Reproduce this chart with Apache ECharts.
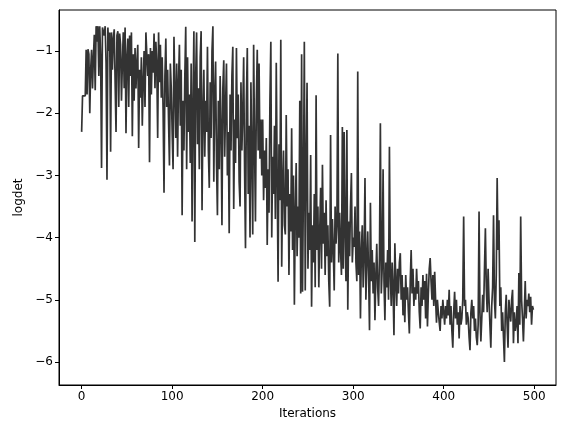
<!DOCTYPE html>
<html>
<head>
<meta charset="utf-8">
<script src="https://cdn.jsdelivr.net/npm/echarts@6/dist/echarts.min.js"></script>
<style>
  html, body { margin: 0; padding: 0; background: #fff; }
  #chart { width: 565px; height: 432px; }
</style>
</head>
<body>
<div id="chart"></div>
<script>
// logdet values, one per iteration (0..499)
var logdet = [
  -2.30,-1.72,-1.70,-1.71,-1.72,-0.98,-1.70,-0.97,-1.05,-2.00,
  -1.30,-0.98,-1.60,-1.10,-0.74,-1.63,-0.60,-0.85,-0.60,-1.40,
  -0.60,-1.10,-2.88,-0.62,-0.60,-0.75,-0.60,-1.20,-3.07,-0.62,
  -1.00,-0.70,-2.62,-0.70,-1.30,-0.80,-0.65,-1.50,-2.30,-0.75,
  -0.68,-1.90,-0.72,-0.90,-1.80,-1.20,-0.70,-1.60,-0.62,-2.32,
  -1.10,-0.80,-1.90,-0.75,-1.40,-0.70,-2.37,-1.05,-1.80,-0.95,
  -1.60,-1.20,-0.90,-2.56,-1.30,-1.75,-1.10,-2.20,-1.50,-1.00,
  -1.90,-0.70,-0.68,-1.40,-1.05,-2.79,-0.95,-1.70,-1.00,-1.35,
  -0.72,-1.60,-0.85,-1.20,-2.40,-0.70,-1.50,-0.90,-1.75,-1.10,
  -1.95,-3.28,-1.40,-0.80,-1.90,-1.30,-2.10,-2.84,-1.20,-1.60,
  -2.30,-2.90,-0.77,-1.60,-2.40,-1.20,-2.70,-1.50,-0.90,-2.20,
  -1.30,-3.64,-1.80,-2.60,-1.40,-0.61,-2.90,-1.10,-2.30,-1.70,
  -2.80,-1.20,-3.74,-1.90,-0.68,-4.07,-1.40,-0.70,-2.50,-1.60,
  -2.90,-1.10,-0.68,-3.56,-2.00,-1.30,-2.70,-1.80,-2.30,-0.93,
  -2.60,-3.20,-1.50,-2.40,-1.00,-0.60,-3.10,-1.70,-1.17,-2.80,
  -3.64,-1.80,-2.90,-1.40,-2.20,-3.80,-1.60,-1.15,-2.70,-1.90,
  -1.20,-3.00,-2.30,-3.93,-1.70,-2.60,-1.40,-0.93,-3.54,-2.10,
  -2.80,-0.95,-2.40,-1.70,-3.10,-3.50,-1.50,-2.60,-2.00,-1.10,
  -2.90,-4.17,-1.80,-0.95,-3.30,-2.20,-4.00,-1.50,-2.70,-3.95,
  -0.90,-2.50,-3.74,-1.80,-0.98,-2.60,-1.20,-2.73,-2.10,-3.00,
  -2.10,-3.40,-2.60,-3.20,-2.40,-4.12,-2.90,-3.60,-1.80,-0.85,
  -4.00,-2.70,-3.30,-2.20,-3.70,-1.19,-3.00,-4.71,-2.50,-3.40,
  -0.82,-4.47,-3.20,-2.60,-3.80,-3.95,-2.03,-3.50,-2.90,-4.60,
  -3.30,-3.90,-2.24,-4.20,-3.00,-5.08,-3.60,-2.80,-4.30,-3.50,
  -4.00,-1.80,-4.90,-1.05,-4.87,-3.20,-0.85,-4.85,-2.90,-1.51,
  -4.50,-3.60,-4.20,-2.67,-5.11,-3.80,-4.40,-3.30,-4.80,-1.71,
  -4.20,-3.50,-4.80,-3.90,-3.20,-4.50,-2.83,-4.10,-3.60,-4.60,
  -3.40,-4.30,-3.80,-4.70,-5.11,-2.35,-4.40,-3.70,-4.20,-4.85,
  -3.50,-4.10,-3.80,-1.04,-4.40,-3.60,-4.20,-4.60,-2.22,-4.50,
  -2.30,-3.90,-4.70,-2.27,-5.16,-3.74,-4.30,-3.50,-2.96,-4.40,
  -4.00,-4.15,-3.50,-4.40,-4.70,-1.33,-4.60,-3.90,-5.30,-4.20,
  -3.80,-4.80,-4.30,-3.04,-5.00,-4.40,-3.90,-4.60,-5.49,-3.44,
  -4.70,-4.20,-4.90,-4.40,-5.33,-4.60,-4.10,-4.80,-5.10,-4.30,
  -2.16,-4.90,-4.50,-2.90,-4.70,-5.33,-4.40,-4.80,-4.20,-5.00,
  -2.54,-4.60,-5.10,-4.40,-4.80,-5.57,-4.09,-4.70,-5.10,-4.50,
  -4.90,-4.40,-4.25,-5.00,-4.60,-5.25,-4.80,-5.36,-4.60,-5.00,
  -4.80,-5.20,-5.54,-4.70,-4.20,-4.90,-4.50,-5.10,-4.80,-5.00,
  -4.50,-4.90,-4.70,-5.20,-5.46,-4.80,-5.10,-4.60,-5.00,-4.70,
  -5.30,-4.58,-5.43,-4.90,-4.50,-4.33,-4.70,-5.00,-4.60,-5.10,
  -4.55,-5.00,-5.37,-5.00,-5.20,-5.36,-5.50,-5.10,-5.30,-5.00,
  -5.20,-5.40,-5.10,-5.30,-5.00,-5.25,-4.84,-5.40,-5.10,-5.50,
  -5.77,-5.20,-4.87,-5.30,-5.00,-5.40,-5.20,-5.62,-5.10,-5.40,
  -5.30,-5.00,-3.66,-5.10,-5.00,-5.40,-5.20,-5.30,-5.60,-5.81,
  -5.20,-5.00,-5.30,-5.10,-5.50,-5.30,-5.60,-5.73,-5.40,-3.58,
  -5.20,-5.67,-5.30,-4.92,-5.20,-4.50,-3.85,-4.80,-5.20,-4.50,
  -5.00,-5.40,-5.77,-5.10,-4.80,-3.64,-5.00,-5.30,-4.60,-3.04,
  -4.20,-3.72,-5.10,-4.80,-5.50,-5.20,-5.60,-6.00,-5.20,-4.92,
  -5.40,-5.77,-5.00,-5.20,-5.35,-5.00,-4.84,-5.70,-5.20,-5.50,
  -5.40,-5.10,-5.70,-4.57,-5.40,-3.66,-5.00,-5.30,-5.67,-5.20,
  -4.70,-5.30,-5.00,-5.10,-4.90,-5.20,-4.95,-5.40,-5.10,-5.16
];
var xTicks = [0, 100, 200, 300, 400, 500];
var yTicks = [-6, -5, -4, -3, -2, -1];

var points = logdet.map(function (v, i) { return [i, v]; });

function minusFmt(v) {
  return v < 0 ? '\u2212' + Math.abs(v) : String(v);
}

var chart = echarts.init(document.getElementById('chart'));
var axisText = { color: '#000', fontFamily: 'DejaVu Sans', fontSize: 12 };

chart.setOption({
  animation: false,
  backgroundColor: '#fff',
  grid: {
    left: 59, right: 9, top: 10, bottom: 47,
    show: true, borderColor: '#000', borderWidth: 1
  },
  xAxis: {
    type: 'value',
    min: -25, max: 524,
    name: 'Iterations',
    nameLocation: 'middle',
    nameGap: 22,
    nameTextStyle: axisText,
    axisLine: { show: true, onZero: false, lineStyle: { color: '#000', width: 1 } },
    axisTick: { show: true, length: 4, customValues: xTicks, lineStyle: { color: '#000' } },
    axisLabel: Object.assign({ customValues: xTicks, margin: 6, formatter: minusFmt }, axisText),
    splitLine: { show: false }
  },
  yAxis: {
    type: 'value',
    min: -6.37, max: -0.34,
    name: 'logdet',
    nameLocation: 'middle',
    nameGap: 34,
    nameTextStyle: axisText,
    axisLine: { show: true, onZero: false, lineStyle: { color: '#000', width: 1 } },
    axisTick: { show: true, length: 4, customValues: yTicks, lineStyle: { color: '#000' } },
    axisLabel: Object.assign({ customValues: yTicks, margin: 6, formatter: minusFmt }, axisText),
    splitLine: { show: false }
  },
  series: [{
    type: 'line',
    data: points,
    showSymbol: false,
    lineStyle: { color: '#333333', width: 1.7 },
    itemStyle: { color: '#333333' }
  }]
});
</script>
</body>
</html>
